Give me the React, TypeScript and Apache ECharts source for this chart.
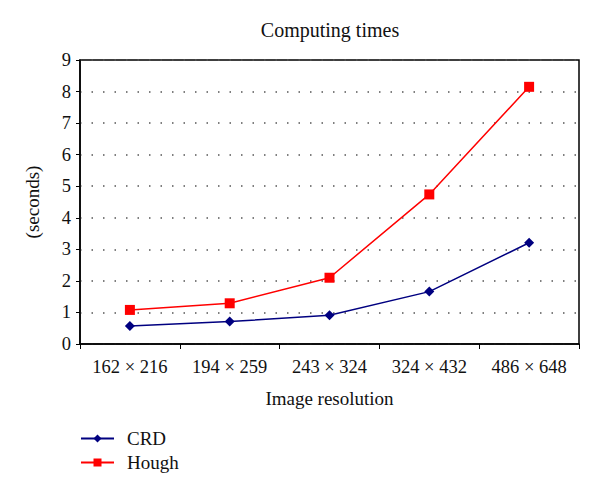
import React, { useEffect, useRef } from "react";
import * as echarts from "echarts";

const categories = ["162 × 216", "194 × 259", "243 × 324", "324 × 432", "486 × 648"];
const crd = [0.57, 0.71, 0.91, 1.66, 3.21];
const hough = [1.08, 1.29, 2.1, 4.74, 8.15];

const FONT = "Liberation Serif";

export default function App() {
  const ref = useRef<HTMLDivElement>(null);
  useEffect(() => {
    const chart = echarts.init(ref.current!, null, { renderer: "svg" });
    chart.setOption({
      animation: false,
      backgroundColor: "#ffffff",
      textStyle: { fontFamily: FONT, color: "#111" },
      title: {
        text: "Computing times",
        left: 322,
        textAlign: "center",
        top: 12,
        padding: 0,
        textStyle: { fontFamily: FONT, fontSize: 20, fontWeight: "normal", color: "#111" },
      },
      legend: {
        orient: "vertical",
        left: 72,
        top: 421,
        padding: 0,
        itemWidth: 33,
        itemHeight: 10,
        itemGap: 5,
        textStyle: { fontFamily: FONT, fontSize: 19, color: "#111", padding: [0, 0, 0, 8] },
        data: ["CRD", "Hough"],
      },
      grid: { left: 72, right: 21, top: 52, bottom: 148, containLabel: false },
      xAxis: {
        type: "category",
        data: categories,
        boundaryGap: true,
        name: "Image resolution",
        nameLocation: "middle",
        nameGap: 45,
        nameTextStyle: { fontFamily: FONT, fontSize: 19, color: "#111" },
        axisLine: { lineStyle: { color: "#000", width: 1.5 } },
        axisTick: { show: true, length: 5, lineStyle: { color: "#000" } },
        axisLabel: { fontFamily: FONT, fontSize: 18.5, color: "#111", margin: 13 },
        splitLine: { show: false },
      },
      yAxis: {
        type: "value",
        min: 0,
        max: 9,
        interval: 1,
        name: "(seconds)",
        nameLocation: "middle",
        nameGap: 38,
        nameRotate: 90,
        nameTextStyle: { fontFamily: FONT, fontSize: 19, color: "#111" },
        axisLine: { show: true, lineStyle: { color: "#000", width: 1.5 } },
        axisTick: { show: true, length: 4, lineStyle: { color: "#000" } },
        axisLabel: { fontFamily: FONT, fontSize: 18.5, color: "#111", margin: 9 },
        splitLine: {
          show: true,
          lineStyle: { color: "#555", type: [1.5, 10], width: 1.5 },
        },
      },
      graphic: [
        {
          type: "rect",
          shape: { x: 72, y: 52, width: 499, height: 284 },
          style: { fill: "none", stroke: "#000", lineWidth: 1.5 },
          silent: true,
          z: 0,
        },
      ],
      series: [
        {
          name: "CRD",
          type: "line",
          data: crd,
          symbol: "diamond",
          symbolSize: 10,
          color: "#000080",
          lineStyle: { color: "#000080", width: 1.5 },
          itemStyle: { color: "#000080" },
        },
        {
          name: "Hough",
          type: "line",
          data: hough,
          symbol: "rect",
          symbolSize: 10,
          color: "#ff0000",
          lineStyle: { color: "#ff0000", width: 1.5 },
          itemStyle: { color: "#ff0000" },
        },
      ],
    });
    return () => chart.dispose();
  }, []);
  return <div ref={ref} style={{ width: 592, height: 484 }} />;
}
